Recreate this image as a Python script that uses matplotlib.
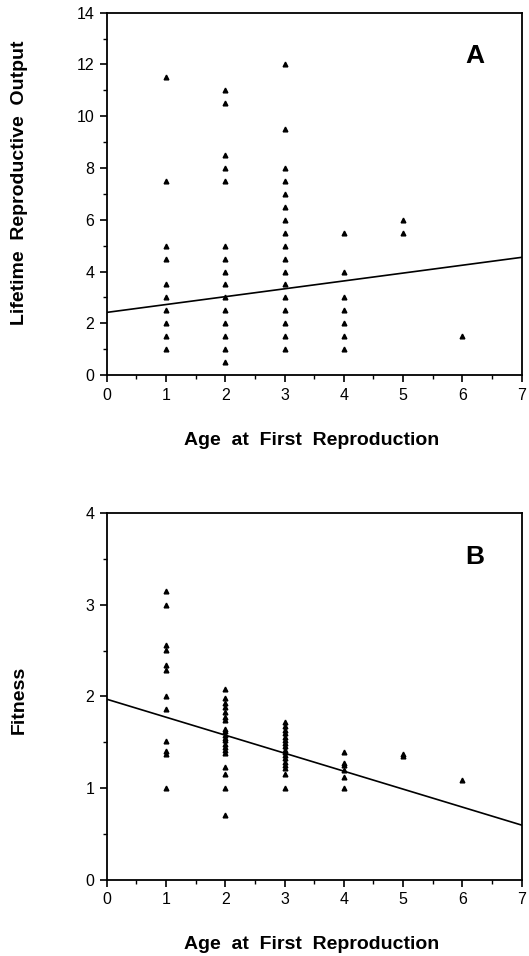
import numpy as np
import matplotlib.pyplot as plt
from matplotlib.ticker import MultipleLocator

plt.rcParams['font.family'] = ['Liberation Sans', 'DejaVu Sans']

# Panel A: lifetime reproductive output by age at first reproduction
age_a = [1] * 10 + [2] * 15 + [3] * 17 + [4] * 7 + [5] * 2 + [6]
lro_a = [11.5, 7.5, 5, 4.5, 3.5, 3, 2.5, 2, 1.5, 1,
         11, 10.5, 8.5, 8, 7.5, 5, 4.5, 4, 3.5, 3, 2.5, 2, 1.5, 1, 0.5,
         12, 9.5, 8, 7.5, 7, 6.5, 6, 5.5, 5, 4.5, 4, 3.5, 3, 2.5, 2, 1.5, 1,
         5.5, 4, 3, 2.5, 2, 1.5, 1,
         6, 5.5,
         1.5]
fit_a = (2.42, 0.304)  # intercept, slope

# Panel B: fitness by age at first reproduction
age_b = [1] * 12 + [2] * 20 + [3] * 17 + [4] * 6 + [5] * 2 + [6]
fitness_b = [3.15, 3.0, 2.56, 2.51, 2.34, 2.29, 2.0, 1.86, 1.51, 1.41, 1.37, 1.0,
             2.08, 1.98, 1.93, 1.88, 1.83, 1.78, 1.74, 1.65, 1.62, 1.58, 1.55,
             1.52, 1.48, 1.45, 1.42, 1.38, 1.23, 1.15, 1.0, 0.71,
             1.72, 1.68, 1.63, 1.6, 1.56, 1.52, 1.49, 1.46, 1.42, 1.39, 1.36,
             1.33, 1.29, 1.25, 1.22, 1.15, 1.0,
             1.4, 1.28, 1.25, 1.2, 1.12, 1.0,
             1.37, 1.35,
             1.09]
fit_b = (1.97, -0.196)

fig = plt.figure(figsize=(5.29, 9.56), dpi=100)
ax1 = fig.add_axes([0.2017, 0.6077, 0.7845, 0.379])
ax2 = fig.add_axes([0.2017, 0.0795, 0.7845, 0.384])


def style(ax, ymax, ymajor, yminor, letter, ylabel, ylab_y, xlab_y):
    ax.set_xlim(0, 7)
    ax.set_ylim(0, ymax)
    ax.xaxis.set_major_locator(MultipleLocator(1))
    ax.xaxis.set_minor_locator(MultipleLocator(0.5))
    ax.yaxis.set_major_locator(MultipleLocator(ymajor))
    ax.yaxis.set_minor_locator(MultipleLocator(yminor))
    ax.tick_params(which='major', length=5, width=1.2, labelsize=11.5, pad=4)
    ax.tick_params(which='minor', length=3, width=1.0)
    for s in ax.spines.values():
        s.set_linewidth(1.3)
    ax.text(0.888, 0.88, letter, transform=ax.transAxes, ha='center',
            va='center', fontsize=19, fontweight='bold')
    ax.set_ylabel(ylabel, fontsize=14, fontweight='bold')
    ax.yaxis.set_label_coords(-0.19, ylab_y)
    ax.set_xlabel('Age  at  First  Reproduction', fontsize=14,
                  fontweight='bold')
    ax.xaxis.set_label_coords(0.495, xlab_y)


xs = np.array([0, 7])

ax1.plot(age_a, lro_a, '^', color='black', ms=3.4)
ax1.plot(xs, fit_a[0] + fit_a[1] * xs, color='black', lw=1.2)
style(ax1, 14, 2, 1, 'A', 'Lifetime  Reproductive  Output', 0.53, -0.158)

ax2.plot(age_b, fitness_b, '^', color='black', ms=3.4)
ax2.plot(xs, fit_b[0] + fit_b[1] * xs, color='black', lw=1.2)
style(ax2, 4, 1, 0.5, 'B', 'Fitness', 0.49, -0.152)

fig.savefig('out.png', dpi=100)
